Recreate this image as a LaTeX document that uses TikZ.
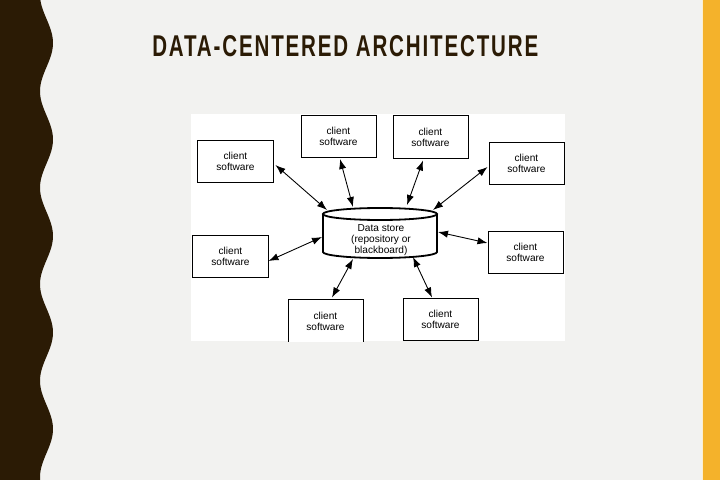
\documentclass[tikz,border=0pt]{standalone}
\usepackage{fontspec}
\setmainfont{Liberation Sans}
\usepackage{graphicx}
\usepackage{tikz}
\usetikzlibrary{
  arrows.meta,
  positioning,
  calc
}
\usepackage{xcolor}
\definecolor{slidebg}{HTML}{F2F2F0}
\definecolor{slidebrown}{HTML}{2B1B05}
\definecolor{slideorange}{HTML}{F4B22B}
\definecolor{slidecream}{HTML}{FBEFD3}

\begin{document}
\begin{tikzpicture}[
  x=0.25mm, y=-0.25mm,
  clientbox/.style={draw, line width=0.25mm, fill=white, minimum width=18.75mm,
    minimum height=10.5mm, inner sep=0pt, align=center,
    font={\fontsize{7.2}{7.7}\selectfont}},
  storetext/.style={minimum width=28.5mm, minimum height=12mm, inner sep=0pt,
    align=center, font={\fontsize{7.2}{7.8}\selectfont}},
  tank/.style={line width=0.45mm},
  conn/.style={{Latex[length=2.5mm, width=1.8mm]}-{Latex[length=2.5mm, width=1.8mm]},
    line width=0.22mm}
]

  % Slide background
  \useasboundingbox (0,0) rectangle (720,480);
  \fill[slidebg] (0,0) rectangle (720,480);

  % Wavy band on the left
  \fill[slidebrown] (0,0) -- plot[domain=0:480, samples=160]
    ({46.5+6.5*cos(3.7306*(\x-43))}, \x) -- (0,480) -- cycle;

  % Orange bar on the right
  \fill[slideorange] (703,0) rectangle (720,480);
  \draw[slidecream, line width=0.25mm] (702,0) -- (702,480);

  % Title
  \node[anchor=base west, inner sep=0pt, text=slidebrown] (title) at (152,57)
    {\resizebox{96.5mm}{5.25mm}{\bfseries\addfontfeature{LetterSpace=9}DATA-CENTERED ARCHITECTURE}};

  \begin{scope}
    \clip (191,114) rectangle (565,341);
    \fill[white] (191,114) rectangle (565,341);

    % Data store
    \node[storetext] (store) at (381,240) {Data store\\(repository or\\blackboard)};
    \draw[tank] ($(store.center)+(-58,-26)$) -- ++(0,38)
      arc[start angle=180, end angle=360, x radius=14.25mm, y radius=1.5mm]
      -- ++(0,-38);
    \draw[tank, fill=white] ($(store.center)+(-1,-26)$)
      ellipse[x radius=14.25mm, y radius=1.5mm];

    % Clients
    \node[clientbox] (cs1) at (235.5,161.5) {client\\software};
    \node[clientbox] (cs2) at (338.5,136.5) {client\\software};
    \node[clientbox] (cs3) at (430.5,137) {client\\software};
    \node[clientbox] (cs4) at (526.5,163) {client\\software};
    \node[clientbox] (cs5) at (230.5,256) {client\\software};
    \node[clientbox] (cs6) at (525.5,252.5) {client\\software};
    \node[clientbox, minimum height=11mm] (cs7) at (325.5,321) {client\\software};
    \node[clientbox] (cs8) at (440.5,319) {client\\software};

    % Connectors
    \draw[conn] ($(cs1.east)+(2,3.5)$) -- ($(store.center)+(-54,-30)$);
    \draw[conn] ($(cs2.south)+(1.5,1)$) -- ($(store.center)+(-28,-33)$);
    \draw[conn] ($(cs3.south)+(-7.5,2)$) -- ($(store.center)+(26,-35)$);
    \draw[conn] ($(cs4.west)+(-1,4)$) -- ($(store.center)+(52,-30)$);
    \draw[conn] ($(cs5.east)+(0,5)$) -- ($(store.center)+(-59,-3)$);
    \draw[conn] ($(cs6.west)+(0,-9.5)$) -- ($(store.center)+(57,-8)$);
    \draw[conn] ($(cs7.north)+(6.5,-1)$) -- ($(store.center)+(-28,19)$);
    \draw[conn] ($(cs8.north)+(-8.5,0)$) -- ($(store.center)+(32,17)$);
  \end{scope}

\end{tikzpicture}
\end{document}
